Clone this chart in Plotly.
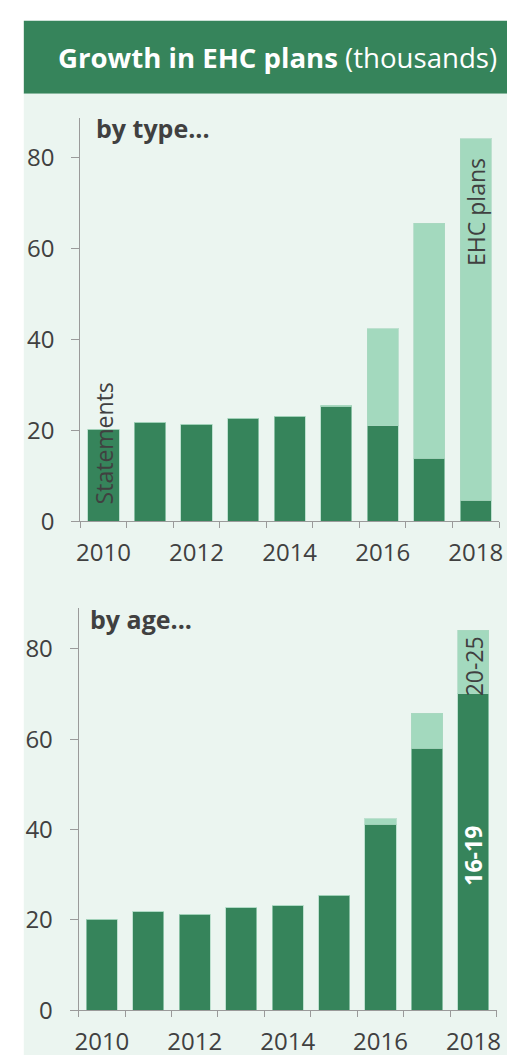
import plotly.graph_objects as go

W, H = 515, 1062

years = [2010, 2011, 2012, 2013, 2014, 2015, 2016, 2017, 2018]
statements = [20.2, 21.8, 21.3, 22.7, 23.1, 25.3, 21.0, 13.9, 4.6]
ehc_plans = [0, 0, 0, 0, 0, 0.2, 21.3, 51.7, 79.5]
age_16_19 = [20.2, 21.8, 21.3, 22.7, 23.1, 25.5, 41.2, 58.0, 70.1]
age_20_25 = [0, 0, 0, 0, 0, 0, 1.2, 7.7, 14.0]
ytick_vals = [0, 20, 40, 60, 80]
xtick_labels = ["2010", "2012", "2014", "2016", "2018"]

DARK = "#36845b"
LIGHT = "#a3d9be"
BG = "#ebf5f0"
TXT = "#404040"
AX = "#9a9a9a"
FONT = "Open Sans"

def px_x(p):
    return p / W

def px_y(p):
    return 1 - p / H

fig = go.Figure()
line = dict(color="rgba(170,215,192,0.7)", width=1)
fig.add_trace(go.Bar(x=years, y=statements, marker=dict(color=DARK, line=line), xaxis="x", yaxis="y", width=0.67))
fig.add_trace(go.Bar(x=years, y=ehc_plans, marker=dict(color=LIGHT, line=line), xaxis="x", yaxis="y", width=0.67))
fig.add_trace(go.Bar(x=years, y=age_16_19, marker=dict(color=DARK, line=line), xaxis="x2", yaxis="y2", width=0.67))
fig.add_trace(go.Bar(x=years, y=age_20_25, marker=dict(color=LIGHT, line=line), xaxis="x2", yaxis="y2", width=0.67))

bounds = [y - 0.5 for y in years] + [years[-1] + 0.5]
even_years = [int(t) for t in xtick_labels]

def xaxis(dom, anchor):
    return dict(
        domain=dom, anchor=anchor, range=[years[0] - 0.5, years[-1] + 0.5],
        tickmode="array", tickvals=even_years, ticktext=xtick_labels, ticks="",
        showline=True, linecolor=AX, linewidth=1, showgrid=False, zeroline=False,
        tickfont=dict(family=FONT, size=24, color=TXT), ticklabelstandoff=10,
        minor=dict(tickmode="array", tickvals=bounds, ticks="outside", ticklen=6,
                   tickcolor=AX, tickwidth=1, showgrid=False),
    )

def yaxis(dom, anchor, top):
    return dict(
        domain=dom, anchor=anchor, range=[0, top],
        tickmode="array", tickvals=ytick_vals, ticks="outside", ticklen=8,
        tickcolor=AX, showline=True, linecolor=AX, linewidth=1, showgrid=False,
        zeroline=False, tickfont=dict(family=FONT, size=24, color=TXT),
        ticklabelstandoff=12,
    )

fig.update_layout(
    width=W, height=H, margin=dict(l=0, r=0, t=0, b=0),
    paper_bgcolor="white", plot_bgcolor="rgba(0,0,0,0)",
    barmode="stack", showlegend=False,
    xaxis=xaxis([px_x(69.3), px_x(494.7)], "y"),
    yaxis=yaxis([px_y(520.7), px_y(112)], "x", 88.6),
    xaxis2=xaxis([px_x(67.7), px_x(492.3)], "y2"),
    yaxis2=yaxis([px_y(1016.7), px_y(608.3)], "x2", 89.1),
    shapes=[
        dict(type="rect", xref="paper", yref="paper", x0=px_x(12), x1=1, y0=px_y(87), y1=px_y(13),
             fillcolor=DARK, line=dict(width=0), layer="below"),
        dict(type="rect", xref="paper", yref="paper", x0=px_x(12), x1=1, y0=0, y1=px_y(87),
             fillcolor=BG, line=dict(width=0), layer="below"),
    ],
)

annos = [
    dict(xref="paper", yref="paper", x=px_x(45), y=px_y(50), xanchor="left", yanchor="middle",
         text="<b>Growth in EHC plans</b> (thousands)", font=dict(family=FONT, size=27.6, color="white"),
         showarrow=False),
    dict(xref="paper", yref="paper", x=px_x(83), y=px_y(122), xanchor="left", yanchor="middle",
         text="<b>by type...</b>", font=dict(family=FONT, size=25, color=TXT), showarrow=False),
    dict(xref="paper", yref="paper", x=px_x(77), y=px_y(620), xanchor="left", yanchor="middle",
         text="<b>by age...</b>", font=dict(family=FONT, size=25, color=TXT), showarrow=False),
    dict(xref="x", yref="y", x=years[0], y=3.4, xanchor="center", yanchor="bottom", textangle=-90,
         text="Statements", font=dict(family=FONT, size=23, color=TXT), showarrow=False),
    dict(xref="x", yref="y", x=years[-1], y=80.3, xanchor="center", yanchor="top", textangle=-90,
         text="EHC plans", font=dict(family=FONT, size=23, color=TXT), showarrow=False),
    dict(xref="x2", yref="y2", x=years[-1], y=83.3, xanchor="center", yanchor="top", textangle=-90,
         text="20-25", font=dict(family=FONT, size=23, color=TXT), showarrow=False),
    dict(xref="x2", yref="y2", x=years[-1], y=41.4, xanchor="center", yanchor="top", textangle=-90,
         text="<b>16-19</b>", font=dict(family=FONT, size=23, color="white"), showarrow=False),
]
fig.update_layout(annotations=annos)

fig.write_html("out.html")
